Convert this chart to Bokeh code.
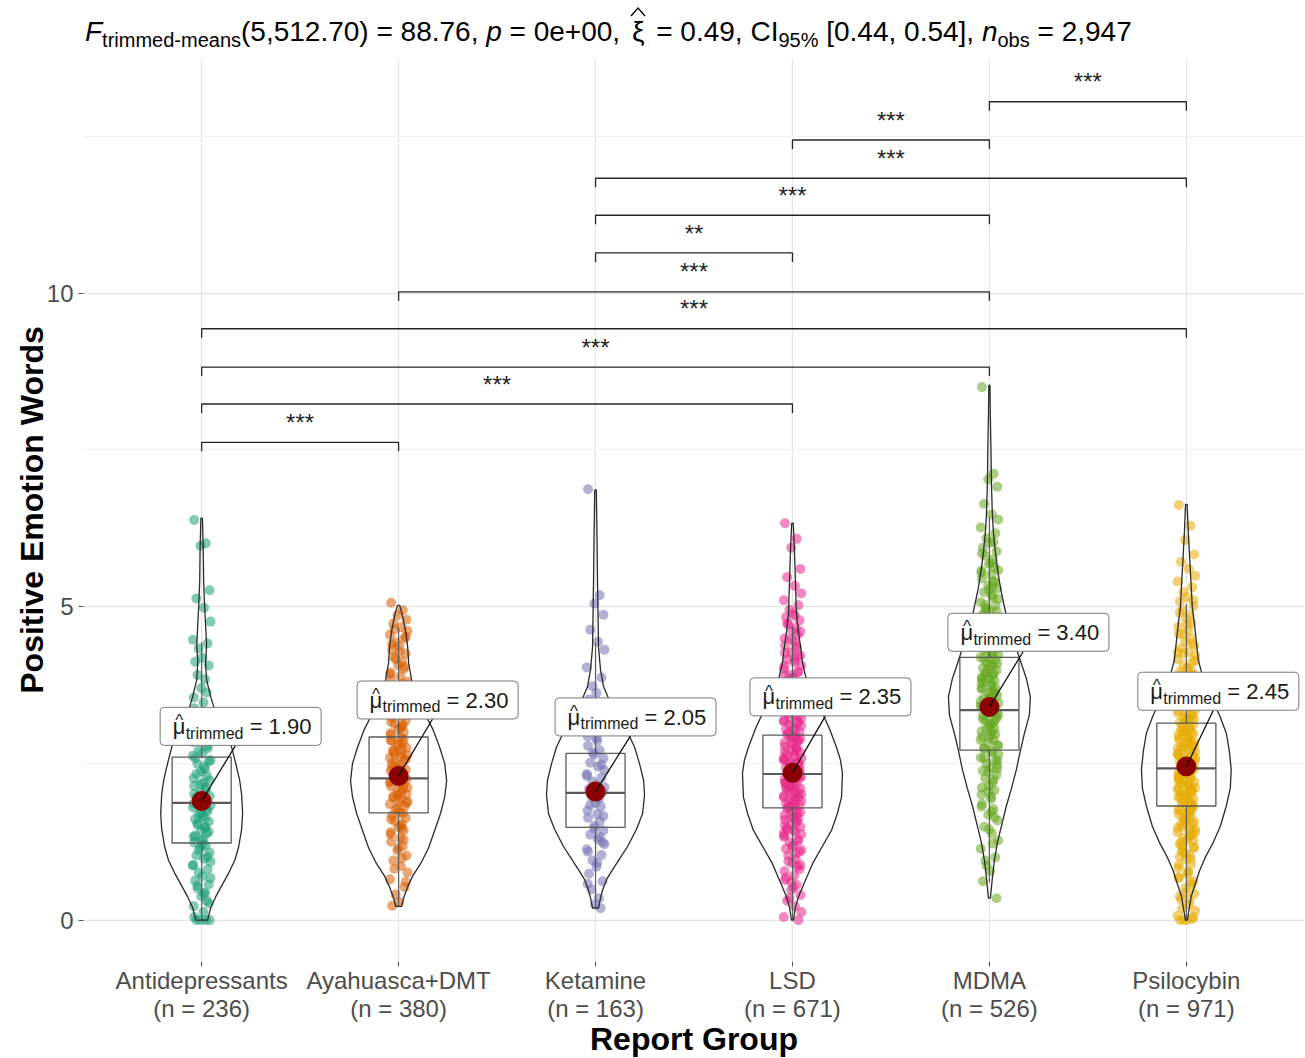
from bokeh.plotting import figure
from bokeh.models import FixedTicker, ColumnDataSource, Div
from bokeh.layouts import column
from bokeh.core.properties import value
from bokeh.embed import file_html
from bokeh.resources import INLINE

# ---------------- data ----------------
GROUPS = ["Antidepressants", "Ayahuasca+DMT", "Ketamine", "LSD", "MDMA", "Psilocybin"]
GROUP_N = [236, 380, 163, 671, 526, 971]
COLORS = ["#1B9E77", "#D95F02", "#7570B3", "#E7298A", "#66A61E", "#E6AB02"]
TRIMMED_MEANS = [1.90, 2.30, 2.05, 2.35, 3.40, 2.45]
MEDIANS = [1.87, 2.26, 2.03, 2.33, 3.35, 2.42]
Q1 = [1.23, 1.71, 1.48, 1.79, 2.71, 1.82]
Q3 = [2.60, 2.92, 2.66, 2.95, 4.19, 3.14]
WHISK_LO = [0.00, 0.22, 0.19, 0.00, 0.60, 0.00]
WHISK_HI = [4.43, 4.66, 4.42, 4.68, 6.43, 5.04]

# violin outlines: value levels and half-width (scaled density, in category units)
VIOLIN_Y = [
    [0, 0.2, 0.37, 0.55, 0.75, 0.95, 1.17, 1.45, 1.7, 2.0, 2.23, 2.5, 2.76, 3.0, 3.3, 3.56, 3.83, 4.1, 4.4, 4.7, 5.0, 5.4, 5.9, 6.41],
    [0.22, 0.35, 0.53, 0.7, 0.9, 1.15, 1.43, 1.7, 1.96, 2.22, 2.5, 2.76, 3.05, 3.3, 3.55, 3.83, 4.1, 4.36, 4.6, 4.78, 4.92, 5.02],
    [0.19, 0.35, 0.48, 0.65, 0.8, 1.0, 1.17, 1.45, 1.7, 2.0, 2.23, 2.5, 2.76, 3.0, 3.3, 3.5, 3.72, 4.0, 4.36, 4.8, 5.42, 6.0, 6.86],
    [0, 0.2, 0.37, 0.6, 0.9, 1.15, 1.43, 1.7, 1.96, 2.34, 2.55, 2.76, 3.05, 3.3, 3.55, 3.83, 4.1, 4.36, 4.6, 4.9, 5.4, 5.9, 6.33],
    [0.35, 0.67, 0.95, 1.24, 1.5, 1.82, 2.1, 2.4, 2.7, 2.98, 3.27, 3.56, 3.85, 4.14, 4.43, 4.72, 5.0, 5.3, 5.6, 5.88, 6.2, 6.46, 7.0, 7.5, 8.0, 8.53],
    [0, 0.2, 0.38, 0.58, 0.78, 1.0, 1.24, 1.5, 1.82, 2.1, 2.4, 2.7, 2.98, 3.27, 3.56, 3.85, 4.14, 4.43, 4.72, 5.0, 5.3, 5.7, 6.17, 6.63],
]
VIOLIN_W = [
    [0.030, 0.046, 0.071, 0.102, 0.137, 0.168, 0.188, 0.203, 0.208, 0.203, 0.193, 0.173, 0.152, 0.122, 0.071, 0.046, 0.025, 0.020, 0.025, 0.020, 0.015, 0.010, 0.008, 0.004],
    [0.015, 0.025, 0.046, 0.071, 0.112, 0.152, 0.183, 0.213, 0.234, 0.244, 0.234, 0.208, 0.173, 0.132, 0.096, 0.066, 0.051, 0.046, 0.036, 0.025, 0.015, 0.005],
    [0.015, 0.025, 0.036, 0.056, 0.086, 0.127, 0.162, 0.208, 0.239, 0.249, 0.244, 0.223, 0.198, 0.162, 0.112, 0.071, 0.041, 0.025, 0.015, 0.013, 0.010, 0.008, 0.004],
    [0.005, 0.015, 0.030, 0.061, 0.102, 0.147, 0.198, 0.228, 0.249, 0.254, 0.244, 0.223, 0.188, 0.152, 0.112, 0.071, 0.051, 0.041, 0.030, 0.020, 0.015, 0.010, 0.004],
    [0.005, 0.015, 0.025, 0.041, 0.061, 0.086, 0.112, 0.137, 0.157, 0.178, 0.203, 0.208, 0.188, 0.157, 0.127, 0.096, 0.076, 0.056, 0.041, 0.030, 0.020, 0.015, 0.010, 0.008, 0.005, 0.003],
    [0.005, 0.015, 0.025, 0.046, 0.066, 0.096, 0.137, 0.173, 0.203, 0.223, 0.228, 0.218, 0.203, 0.168, 0.122, 0.086, 0.061, 0.051, 0.041, 0.030, 0.025, 0.018, 0.010, 0.004],
]

AD_POINTS = [6.38, 6.01, 5.97, 5.26, 5.13, 4.98, 4.76, 4.47, 4.41, 4.33, 4.18, 4.12, 4.06, 3.91, 3.84, 3.70, 3.63, 3.55, 3.47, 3.38,
             3.31, 3.22, 3.14, 3.05, 2.97, 2.92, 2.84, 2.78, 2.71, 2.66, 2.58, 2.53, 2.49, 2.41, 2.37, 2.30, 2.26, 2.19, 2.14, 2.11,
             2.04, 1.98, 1.95, 1.89, 1.83, 1.80, 1.74, 1.69, 1.66, 1.61, 1.57, 1.52, 1.47, 1.43, 1.38, 1.33, 1.29, 1.24, 1.19, 1.15,
             1.08, 1.03, 0.98, 0.93, 0.87, 0.81, 0.76, 0.70, 0.63, 0.57, 0.51, 0.44, 0.38, 0.31, 0.22, 0.13, 0.05, 0.00, 0.00, 0.00, 0.00,
             0.42, 0.67, 0.88, 1.01, 1.12, 1.21, 1.35, 1.41, 1.55, 1.63, 1.71, 1.77, 1.86, 1.92, 2.01, 2.08, 2.17, 2.23, 2.33, 2.45,
             2.55, 2.62, 2.74, 2.88, 3.01, 3.18, 0.27, 0.55, 1.49, 1.27]
AY_POINTS = [5.06, 4.94, 4.86, 4.79, 4.73, 4.67, 4.61, 4.55, 4.49, 4.43, 4.37, 4.31, 4.25, 4.19, 4.13, 4.07, 4.01, 3.95, 3.89, 3.83,
             3.77, 3.71, 3.65, 3.60, 3.54, 3.49, 3.43, 3.38, 3.33, 3.28, 3.23, 3.18, 3.13, 3.09, 3.04, 3.00, 2.95, 2.91, 2.87, 2.83,
             2.79, 2.75, 2.71, 2.67, 2.63, 2.59, 2.55, 2.51, 2.47, 2.44, 2.40, 2.36, 2.32, 2.28, 2.25, 2.21, 2.17, 2.13, 2.09, 2.05,
             2.01, 1.97, 1.93, 1.89, 1.85, 1.81, 1.76, 1.72, 1.67, 1.63, 1.58, 1.53, 1.48, 1.43, 1.37, 1.31, 1.25, 1.18, 1.11, 1.03,
             0.95, 0.86, 0.76, 0.65, 0.53, 0.41, 0.29, 0.23,
             0.61, 0.82, 0.99, 1.15, 1.28, 1.40, 1.51, 1.61, 1.70, 1.79, 1.87, 1.95, 2.03, 2.11, 2.19, 2.27, 2.34, 2.42, 2.50, 2.57,
             2.65, 2.73, 2.81, 2.89, 2.98, 3.07, 3.16, 3.26, 3.36, 3.46, 3.57, 3.68, 3.80, 3.92, 4.04, 4.16, 4.28, 4.40, 4.52, 4.64,
             1.46, 1.90, 2.15, 2.38, 2.61, 2.86, 3.11, 2.00, 2.24, 2.69]
KE_POINTS = [6.87, 5.18, 5.05, 4.87, 4.63, 4.44, 4.31, 4.03, 3.87, 3.73, 3.62, 3.52, 3.41, 3.31, 3.20, 3.11, 3.01, 2.93, 2.86, 2.78,
             2.71, 2.64, 2.58, 2.51, 2.45, 2.39, 2.33, 2.27, 2.21, 2.15, 2.09, 2.04, 1.98, 1.93, 1.87, 1.81, 1.75, 1.69, 1.63, 1.57,
             1.50, 1.43, 1.36, 1.29, 1.21, 1.13, 1.04, 0.95, 0.85, 0.74, 0.62, 0.49, 0.35, 0.25, 0.19,
             0.58, 0.91, 1.09, 1.33, 1.46, 1.66, 1.84, 1.96, 2.12, 2.30, 2.48, 2.67, 2.90, 3.15, 1.24]
LSD_POINTS = [6.33, 6.08, 5.94, 5.60, 5.47, 5.33, 5.21, 5.10, 5.02, 4.95, 4.89, 4.83, 4.78, 4.72, 4.66, 4.61, 4.55, 4.49, 4.44, 4.38,
              4.33, 4.27, 4.22, 4.16, 4.11, 4.06, 4.01, 3.96, 3.91, 3.86, 3.81, 3.77, 3.72, 3.68, 3.63, 3.59, 3.54, 3.50, 3.46, 3.42,
              3.38, 3.34, 3.30, 3.26, 3.22, 3.18, 3.15, 3.11, 3.07, 3.04, 3.00, 2.97, 2.93, 2.90, 2.87, 2.83, 2.80, 2.77, 2.74, 2.71,
              2.67, 2.64, 2.61, 2.58, 2.55, 2.52, 2.49, 2.46, 2.43, 2.40, 2.37, 2.34, 2.31, 2.28, 2.25, 2.22, 2.19, 2.16, 2.13, 2.10,
              2.07, 2.04, 2.01, 1.98, 1.95, 1.92, 1.89, 1.86, 1.83, 1.80, 1.77, 1.73, 1.70, 1.67, 1.63, 1.60, 1.56, 1.53, 1.49, 1.45,
              1.41, 1.37, 1.33, 1.28, 1.24, 1.19, 1.14, 1.09, 1.03, 0.97, 0.91, 0.85, 0.78, 0.71, 0.64, 0.56, 0.48, 0.40, 0.31, 0.22,
              0.13, 0.05, 0.00,
              0.35, 0.52, 0.68, 0.81, 0.94, 1.06, 1.17, 1.26, 1.35, 1.43, 1.51, 1.58, 1.65, 1.72, 1.78, 1.84, 1.90, 1.96, 2.02, 2.08,
              2.14, 2.20, 2.26, 2.32, 2.38, 2.44, 2.50, 2.56, 2.62, 2.68, 2.75, 2.82, 2.89, 2.96, 3.03, 3.10, 3.17, 3.25, 3.33, 3.41,
              3.49, 3.58, 3.67, 3.76, 3.85, 3.95, 4.05, 4.15, 4.26, 4.37, 4.48, 4.60, 4.73, 4.86, 1.12, 1.39, 1.62, 1.81, 1.99, 2.17,
              2.35, 2.53, 2.71, 2.92, 3.14, 3.37, 3.62, 3.90, 4.20, 0.60, 0.88, 1.47, 1.93, 2.29, 2.59, 2.86, 3.21, 3.53, 2.11, 2.47]
MDMA_POINTS = [8.50, 7.12, 7.03, 6.91, 6.64, 6.47, 6.39, 6.26, 6.17, 6.09, 6.02, 5.94, 5.88, 5.81, 5.75, 5.68, 5.62, 5.57, 5.51, 5.45,
               5.40, 5.34, 5.29, 5.23, 5.18, 5.12, 5.07, 5.02, 4.97, 4.92, 4.87, 4.82, 4.77, 4.72, 4.67, 4.63, 4.58, 4.54, 4.49, 4.45,
               4.40, 4.36, 4.32, 4.27, 4.23, 4.19, 4.15, 4.10, 4.06, 4.02, 3.98, 3.94, 3.90, 3.86, 3.82, 3.78, 3.74, 3.70, 3.66, 3.62,
               3.58, 3.54, 3.50, 3.46, 3.42, 3.38, 3.34, 3.30, 3.26, 3.22, 3.18, 3.14, 3.10, 3.05, 3.01, 2.97, 2.92, 2.88, 2.83, 2.79,
               2.74, 2.69, 2.64, 2.59, 2.54, 2.49, 2.43, 2.38, 2.32, 2.26, 2.20, 2.14, 2.07, 2.00, 1.93, 1.85, 1.77, 1.68, 1.59, 1.49,
               1.38, 1.27, 1.14, 1.00, 0.87, 0.78, 0.62, 0.35,
               0.95, 1.22, 1.45, 1.64, 1.81, 1.97, 2.11, 2.24, 2.36, 2.47, 2.58, 2.68, 2.78, 2.87, 2.96, 3.05, 3.13, 3.21, 3.29, 3.37,
               3.45, 3.53, 3.61, 3.69, 3.77, 3.85, 3.93, 4.01, 4.09, 4.17, 4.25, 4.34, 4.43, 4.52, 4.61, 4.71, 4.81, 4.92, 5.03, 5.15,
               5.27, 5.40, 5.54, 5.69, 5.85, 6.03, 2.05, 2.41, 2.73, 3.01, 3.27, 3.49, 3.71, 3.94, 4.16, 4.39, 4.64, 4.95, 5.31, 2.91,
               3.17, 3.41, 3.63, 3.87, 4.07, 4.31, 2.55, 3.81, 1.73, 5.58]
PS_POINTS = [6.62, 6.29, 6.06, 5.83, 5.71, 5.60, 5.49, 5.40, 5.31, 5.23, 5.15, 5.08, 5.01, 4.94, 4.87, 4.81, 4.74, 4.68, 4.62, 4.56,
             4.50, 4.44, 4.38, 4.33, 4.27, 4.22, 4.16, 4.11, 4.06, 4.01, 3.96, 3.91, 3.86, 3.81, 3.77, 3.72, 3.68, 3.63, 3.59, 3.55,
             3.51, 3.47, 3.43, 3.39, 3.35, 3.31, 3.27, 3.23, 3.20, 3.16, 3.12, 3.09, 3.05, 3.02, 2.98, 2.95, 2.91, 2.88, 2.85, 2.81,
             2.78, 2.75, 2.72, 2.69, 2.65, 2.62, 2.59, 2.56, 2.53, 2.50, 2.47, 2.44, 2.41, 2.38, 2.35, 2.32, 2.29, 2.26, 2.23, 2.20,
             2.17, 2.14, 2.11, 2.08, 2.05, 2.02, 1.99, 1.96, 1.93, 1.89, 1.86, 1.83, 1.79, 1.76, 1.72, 1.69, 1.65, 1.61, 1.57, 1.53,
             1.49, 1.45, 1.40, 1.36, 1.31, 1.26, 1.21, 1.15, 1.09, 1.03, 0.97, 0.90, 0.83, 0.76, 0.68, 0.60, 0.51, 0.42, 0.33, 0.24,
             0.15, 0.07, 0.02, 0.00, 0.00, 0.00,
             0.05, 0.19, 0.31, 0.44, 0.56, 0.67, 0.78, 0.88, 0.98, 1.07, 1.16, 1.24, 1.32, 1.40, 1.47, 1.54, 1.61, 1.68, 1.75, 1.81,
             1.87, 1.93, 1.99, 2.05, 2.11, 2.17, 2.23, 2.29, 2.35, 2.41, 2.47, 2.53, 2.59, 2.65, 2.71, 2.77, 2.83, 2.90, 2.97, 3.04,
             3.11, 3.18, 3.26, 3.34, 3.42, 3.51, 3.60, 3.70, 3.80, 3.91, 4.02, 4.14, 4.27, 4.41, 4.56, 4.72, 4.90, 5.10, 1.12, 1.36,
             1.58, 1.78, 1.96, 2.14, 2.31, 2.48, 2.65, 2.83, 3.02, 3.22, 3.44, 3.68, 3.95, 4.25, 0.73, 1.01, 1.27, 1.49, 1.71, 1.90,
             2.08, 2.26, 2.44, 2.62, 2.80, 3.00, 3.21, 2.02, 2.38, 2.56, 2.74, 1.84, 2.20, 2.92, 0.38, 0.62, 1.19, 1.43, 3.30, 3.56]
POINTS = [AD_POINTS, AY_POINTS, KE_POINTS, LSD_POINTS, MDMA_POINTS, PS_POINTS]

# pairwise comparisons (group index pairs), significance labels and bracket heights
PAIR_A = [0, 0, 0, 0, 1, 2, 2, 2, 3, 4]
PAIR_B = [1, 3, 4, 5, 4, 3, 4, 5, 4, 5]
PAIR_LABEL = ["***", "***", "***", "***", "***", "**", "***", "***", "***", "***"]
PAIR_Y = [7.62, 8.23, 8.82, 9.43, 10.02, 10.64, 11.24, 11.83, 12.44, 13.05]

# ---------------- layout / style ----------------
X0, X1 = 0.4, 6.6
Y0, Y1 = -0.66, 13.74
FW, FH = 1221, 903
BL, BR, BB = 83, 1, 97
TITLE_H = 58
PXX = (X1 - X0) / FW
PXY = (Y1 - Y0) / FH
FONT = "Liberation Sans"
BASE_CORR = 0.45  # em, empirical shift so glyph baselines land where intended
JITTER = [-0.038, 0.021, -0.006, 0.040, -0.027, 0.012, 0.045, -0.044, 0.030, -0.015,
          0.004, -0.033, 0.036, -0.021, 0.017, -0.002, 0.026, -0.040, 0.009]
LABEL_DX_PX = [39, 39, 40, 38, 39, 32]
LABEL_Y = [3.09, 3.51, 3.24, 3.56, 4.59, 3.65]

p = figure(frame_width=FW, frame_height=FH, x_range=(X0, X1), y_range=(Y0, Y1),
           output_backend="svg", toolbar_location=None,
           min_border_left=BL, min_border_top=0, min_border_right=BR, min_border_bottom=BB)
p.background_fill_color = "white"
p.border_fill_color = "white"
p.outline_line_color = None

# axes
p.xaxis.ticker = FixedTicker(ticks=[1, 2, 3, 4, 5, 6])
p.xaxis.major_label_overrides = {i + 1: f"{g}\n(n = {n})" for i, (g, n) in enumerate(zip(GROUPS, GROUP_N))}
p.yaxis.ticker = FixedTicker(ticks=[0, 5, 10], minor_ticks=[2.5, 7.5, 12.5])
for ax in (p.xaxis[0], p.yaxis[0]):
    ax.axis_line_color = None
    ax.major_tick_line_color = "#555555"
    ax.major_tick_out = 5
    ax.major_tick_in = 0
    ax.minor_tick_line_color = None
    ax.major_label_text_font = FONT
    ax.major_label_text_font_size = "24px"
    ax.major_label_text_color = "#4D4D4D"
    ax.axis_label_text_font = FONT
    ax.axis_label_text_font_size = "32px"
    ax.axis_label_text_font_style = "bold"
    ax.axis_label_text_color = "black"
p.xaxis.major_label_standoff = 0
p.xaxis.major_label_text_line_height = 1.05
p.yaxis.major_label_standoff = 5
p.xaxis.axis_label = "Report Group"
p.xaxis.axis_label_standoff = -4
p.xaxis.axis_label_text_line_height = 1.0
p.yaxis.axis_label = "Positive Emotion Words"
p.yaxis.axis_label_standoff = -6
p.xgrid.grid_line_color = "#E6E6E6"
p.xgrid.grid_line_width = 1.3
p.ygrid.grid_line_color = "#E6E6E6"
p.ygrid.grid_line_width = 1.3
p.ygrid.minor_grid_line_color = "#F0F0F0"
p.ygrid.minor_grid_line_width = 1.0

# jittered points
for i, vals in enumerate(POINTS):
    xs = [i + 1 + JITTER[k % len(JITTER)] for k in range(len(vals))]
    p.scatter(xs, vals, size=10, fill_color=COLORS[i], fill_alpha=0.55, line_color=None)

# boxplots
for i in range(len(GROUPS)):
    c = i + 1
    p.segment(x0=[c, c], y0=[WHISK_LO[i], Q3[i]], x1=[c, c], y1=[Q1[i], WHISK_HI[i]],
              line_color="#5A5A5A", line_width=1.2)
    p.quad(left=[c - 0.15], right=[c + 0.15], bottom=[Q1[i]], top=[Q3[i]],
           fill_color=None, line_color="#5A5A5A", line_width=1.3)
    p.segment(x0=[c - 0.15], y0=[MEDIANS[i]], x1=[c + 0.15], y1=[MEDIANS[i]],
              line_color="#5A5A5A", line_width=2.2)

# violins
for i in range(len(GROUPS)):
    c = i + 1
    ys = VIOLIN_Y[i] + VIOLIN_Y[i][::-1]
    xs = [c + w for w in VIOLIN_W[i]] + [c - w for w in VIOLIN_W[i][::-1]]
    p.patch(xs, ys, fill_color=None, line_color="#2B2B2B", line_width=1.3)

# mean points + leader lines
p.scatter(list(range(1, 7)), TRIMMED_MEANS, size=19, fill_color="#8B0000", line_color="#8B0000")
lab_x = [i + 1 + LABEL_DX_PX[i] * PXX for i in range(len(GROUPS))]
p.segment(x0=[x - 5 * PXX for x in lab_x], y0=[y - 19 * PXY for y in LABEL_Y],
          x1=list(range(1, 7)), y1=TRIMMED_MEANS, line_color="black", line_width=1.2)

# significance brackets
tick = 9 * PXY
bx, by = [], []
for a, b, yv in zip(PAIR_A, PAIR_B, PAIR_Y):
    bx.append([a + 1, a + 1, b + 1, b + 1])
    by.append([yv - tick, yv, yv, yv - tick])
p.multi_line(bx, by, line_color="#262626", line_width=1.3)
star_src = ColumnDataSource(dict(x=[(a + b) / 2 + 1 for a, b in zip(PAIR_A, PAIR_B)],
                                 y=[yv + (9 + BASE_CORR * 24) * PXY for yv in PAIR_Y], t=PAIR_LABEL))
p.text(x="x", y="y", text="t", source=star_src, text_align="center", text_baseline="alphabetic",
       text_font=value(FONT), text_font_size="24px", text_color="#262626")

# mean labels: box + pieces
p.quad(left=[x - 80.5 * PXX for x in lab_x], right=[x + 80.5 * PXX for x in lab_x],
       bottom=[y - 19 * PXY for y in LABEL_Y], top=[y + 19 * PXY for y in LABEL_Y],
       fill_color="white", fill_alpha=1.0, line_color="#7A7A7A", line_width=1, border_radius=4)


def label_text(xs, ys_px_below_center, txts, size, align="left"):
    src = ColumnDataSource(dict(
        x=xs, y=[y - (d - BASE_CORR * size) * PXY for y, d in zip(LABEL_Y, ys_px_below_center)], t=txts))
    p.text(x="x", y="y", text="t", source=src, text_align=align, text_baseline="alphabetic",
           text_font=value(FONT), text_font_size=f"{size}px", text_color="#1A1A1A")


n = len(GROUPS)
label_text([x - 68 * PXX for x in lab_x], [10] * n, ["\u03bc"] * n, 22)
label_text([x - 61.5 * PXX for x in lab_x], [2] * n, ["^"] * n, 17, align="center")
label_text([x - 55 * PXX for x in lab_x], [14] * n, ["trimmed"] * n, 16)
label_text([x + 9 * PXX for x in lab_x], [10] * n, [f"= {m:.2f}" for m in TRIMMED_MEANS], 22)

# title (plotmath-like expression) as a Div above the plot
SUB = 'font-size:20px;position:relative;top:6px;'
HAT = ('<svg width="16" height="10" style="position:absolute;left:50%;margin-left:-8px;top:-11px;overflow:visible">'
       '<polyline points="1,9 8,1 15,9" fill="none" stroke="#000" stroke-width="1.4"/></svg>')
title_html = (
    '<div style="font-family:\'Liberation Sans\',Arial,sans-serif;font-size:28px;line-height:28px;'
    'color:#000;white-space:nowrap;padding-left:85px;padding-top:18px;">'
    f'<i>F</i><span style="{SUB}">trimmed-means</span>(5,512.70) = 88.76, <i>p</i> = 0e+00, '
    f'<span style="position:relative;display:inline-block;padding:0 4px;">\u03be{HAT}</span>'
    f' = 0.49, CI<span style="{SUB}">95%</span> [0.44, 0.54], '
    f'<i>n</i><span style="{SUB}">obs</span> = 2,947</div>'
)
title = Div(text=title_html, width=BL + FW + BR, height=TITLE_H, margin=(0, 0, 0, 0))
p.margin = (0, 0, 0, 0)
layout = column(title, p, spacing=0)

open("out.html", "w").write(file_html(layout, INLINE))
